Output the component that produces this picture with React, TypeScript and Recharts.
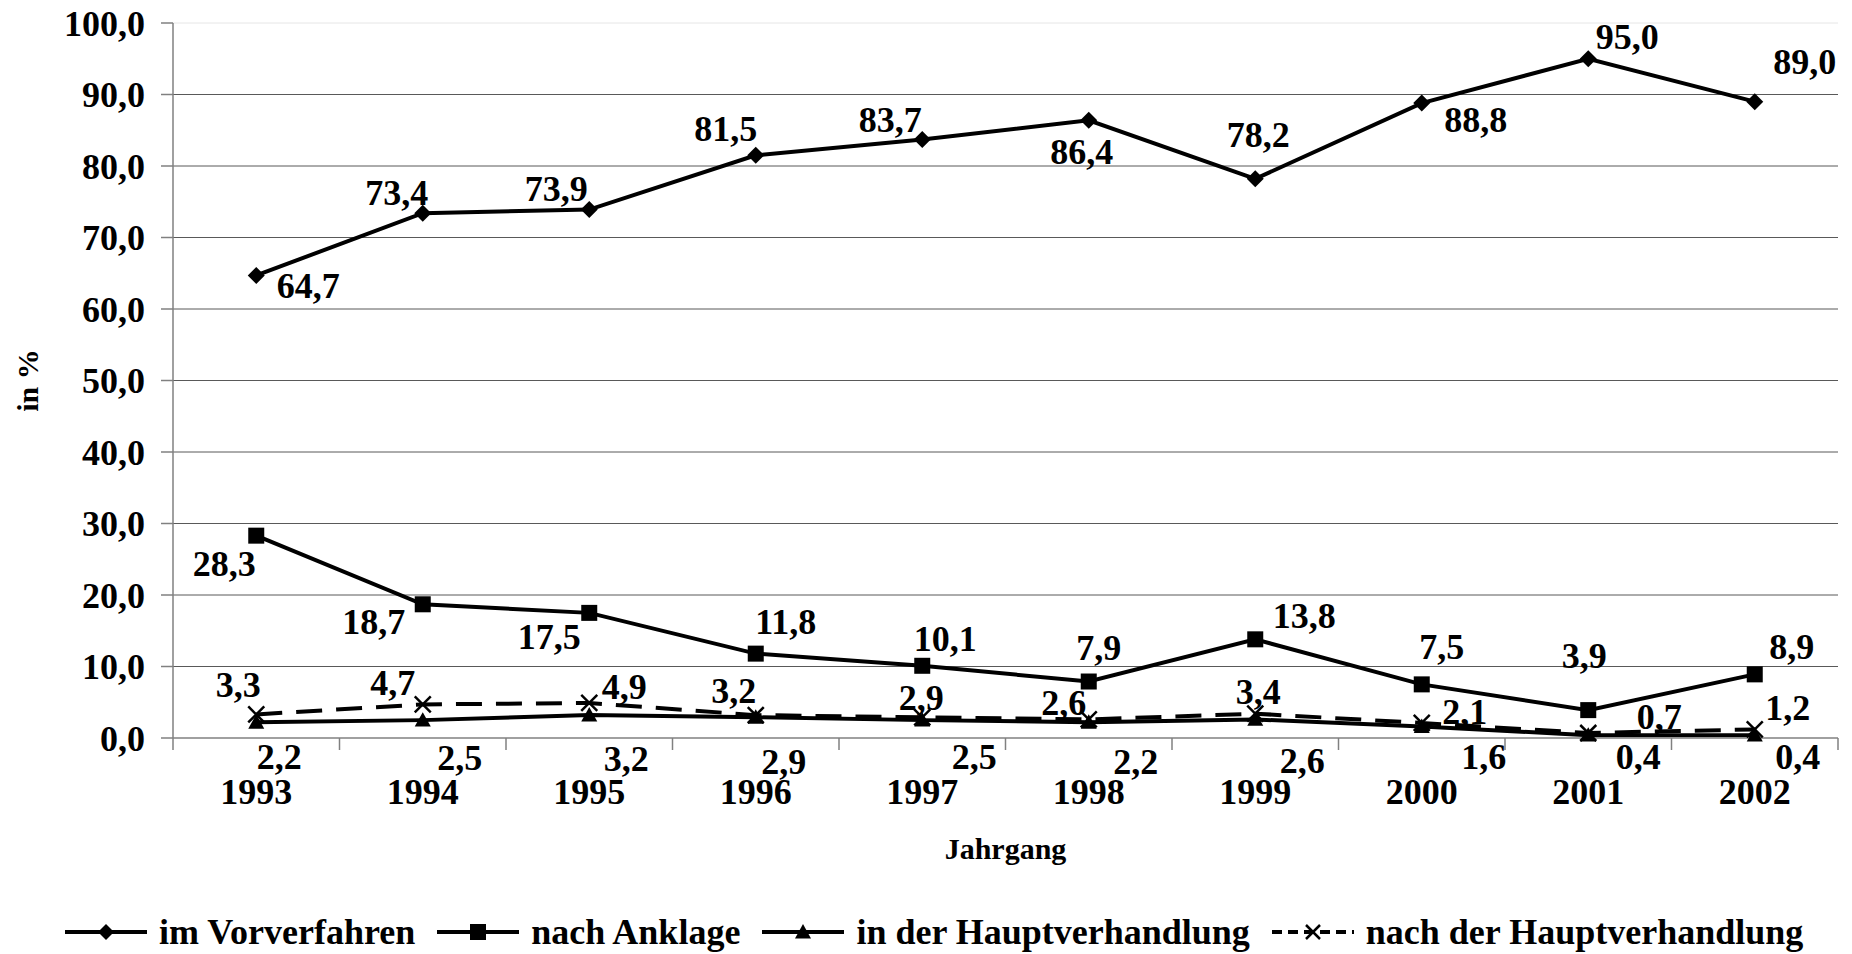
import React from 'react';
import { LineChart, Line, XAxis, YAxis, CartesianGrid, ReferenceLine, LabelList } from 'recharts';

// Jahrgänge und Anteile in %
const years = ['1993', '1994', '1995', '1996', '1997', '1998', '1999', '2000', '2001', '2002'];
const vorverfahren = [64.7, 73.4, 73.9, 81.5, 83.7, 86.4, 78.2, 88.8, 95.0, 89.0];
const anklage = [28.3, 18.7, 17.5, 11.8, 10.1, 7.9, 13.8, 7.5, 3.9, 8.9];
const hauptverhandlung = [2.2, 2.5, 3.2, 2.9, 2.5, 2.2, 2.6, 1.6, 0.4, 0.4];
const nachHauptverhandlung = [3.3, 4.7, 4.9, 3.2, 2.9, 2.6, 3.4, 2.1, 0.7, 1.2];
const yTicks = [0, 10, 20, 30, 40, 50, 60, 70, 80, 90, 100];
const gridValues = [10, 20, 30, 40, 50, 60, 70, 80, 90];

// Position der Datenbeschriftungen relativ zum Punkt (wie im Original manuell verschoben)
const vorOffsets = [[52, 11], [-26, -20], [-33, -21], [-30, -26], [-32, -20], [-7, 32], [3, -44], [54, 17], [39, -22], [50, -40]];
const ankOffsets = [[-32, 28], [-49, 18], [-40, 24], [30, -32], [23, -27], [10, -34], [49, -23], [20, -37], [-4, -54], [37, -27]];
const hvOffsets = [[23, 35], [37, 38], [37, 44], [28, 45], [52, 37], [47, 40], [47, 42], [62, 30], [50, 22], [43, 22]];
const nachOffsets = [[-18, -29], [-30, -21], [35, -16], [-22, -24], [-1, -19], [-25, -16], [3, -22], [43, -11], [71, -16], [33, -21]];

const data = years.map((year, i) => ({
  year,
  vor: vorverfahren[i],
  ank: anklage[i],
  hv: hauptverhandlung[i],
  nach: nachHauptverhandlung[i],
}));

const FONT = "'Liberation Serif', 'Times New Roman', serif";
const W = 1844;
const H = 880;
const TOP = 15;
const LEFT = 165;
const RIGHT = 1830;
const BOTTOM = 730;
const HALF_BAND = (RIGHT - LEFT) / years.length / 2;

const fmt = (v: number) => v.toFixed(1).replace('.', ',');

const Diamond = ({ cx, cy, s = 8.5 }: any) => (
  <polygon points={`${cx},${cy - s} ${cx + s},${cy} ${cx},${cy + s} ${cx - s},${cy}`} fill="#000" />
);
const Square = ({ cx, cy, s = 8 }: any) => <rect x={cx - s} y={cy - s} width={s * 2} height={s * 2} fill="#000" />;
const Triangle = ({ cx, cy, s = 8 }: any) => (
  <polygon points={`${cx},${cy - s} ${cx + s},${cy + s * 0.8} ${cx - s},${cy + s * 0.8}`} fill="#000" />
);
const Cross = ({ cx, cy, s = 8 }: any) => (
  <g stroke="#000" strokeWidth={2.5}>
    <line x1={cx - s} y1={cy - s} x2={cx + s} y2={cy + s} />
    <line x1={cx - s} y1={cy + s} x2={cx + s} y2={cy - s} />
  </g>
);

const makeLabel = (offsets: number[][]) => (props: any) => {
  const { x, y, value, index } = props;
  const [dx, dy] = offsets[index] || [0, -20];
  return (
    <text
      x={x + dx}
      y={y + dy}
      textAnchor="middle"
      dominantBaseline="central"
      fontFamily={FONT}
      fontWeight="bold"
      fontSize={36}
      fill="#000"
    >
      {fmt(value)}
    </text>
  );
};

const YearTick = (props: any) => {
  const { x, payload, index } = props;
  return (
    <g>
      <line x1={x - HALF_BAND} y1={BOTTOM} x2={x - HALF_BAND} y2={BOTTOM + 12} stroke="#808080" strokeWidth={1.5} />
      {index === years.length - 1 && (
        <line x1={x + HALF_BAND} y1={BOTTOM} x2={x + HALF_BAND} y2={BOTTOM + 12} stroke="#808080" strokeWidth={1.5} />
      )}
      <text x={x} y={796} textAnchor="middle" fontFamily={FONT} fontWeight="bold" fontSize={36} fill="#000">
        {payload.value}
      </text>
    </g>
  );
};

const legendItems = [
  { name: 'im Vorverfahren', Marker: Diamond, dash: undefined },
  { name: 'nach Anklage', Marker: Square, dash: undefined },
  { name: 'in der Hauptverhandlung', Marker: Triangle, dash: undefined },
  { name: 'nach der Hauptverhandlung', Marker: Cross, dash: '10 6' },
];

export default function App() {
  return (
    <div style={{ position: 'relative', width: W, height: 946, background: '#fff' }}>
      <LineChart width={W} height={H} data={data} margin={{ top: TOP, right: W - RIGHT, left: 0, bottom: 0 }}>
        <CartesianGrid horizontal={true} vertical={false} horizontalValues={gridValues} stroke="#595959" strokeWidth={1} />
        <ReferenceLine y={100} stroke="#e6e6e6" strokeWidth={1} />
        <XAxis
          dataKey="year"
          type="category"
          padding={{ left: HALF_BAND, right: HALF_BAND }}
          height={H - BOTTOM}
          axisLine={{ stroke: '#808080', strokeWidth: 1.5 }}
          tickLine={false}
          tickSize={0}
          interval={0}
          tick={<YearTick />}
          label={{
            value: 'Jahrgang',
            position: 'insideBottom',
            offset: 29,
            fontFamily: FONT,
            fontWeight: 'bold',
            fontSize: 30,
            fill: '#000',
          }}
        />
        <YAxis
          domain={[0, 100]}
          ticks={yTicks}
          interval={0}
          width={LEFT}
          axisLine={{ stroke: '#808080', strokeWidth: 1.5 }}
          tickLine={{ stroke: '#808080', strokeWidth: 1.5 }}
          tickSize={12}
          tickMargin={16}
          tickFormatter={fmt}
          tick={{ fontFamily: FONT, fontWeight: 'bold', fontSize: 36, fill: '#000' }}
          label={(p: any) => (
            <text
              x={19}
              y={(TOP + BOTTOM) / 2}
              transform={`rotate(-90, 19, ${(TOP + BOTTOM) / 2})`}
              textAnchor="middle"
              dominantBaseline="central"
              fontFamily={FONT}
              fontWeight="bold"
              fontSize={30}
              fill="#000"
            >
              in %
            </text>
          )}
        />
        <Line
          dataKey="vor"
          name="im Vorverfahren"
          stroke="#000"
          strokeWidth={4}
          isAnimationActive={false}
          dot={(p: any) => <Diamond key={p.index} cx={p.cx} cy={p.cy} />}
        >
          <LabelList dataKey="vor" content={makeLabel(vorOffsets)} />
        </Line>
        <Line
          dataKey="ank"
          name="nach Anklage"
          stroke="#000"
          strokeWidth={4}
          isAnimationActive={false}
          dot={(p: any) => <Square key={p.index} cx={p.cx} cy={p.cy} />}
        >
          <LabelList dataKey="ank" content={makeLabel(ankOffsets)} />
        </Line>
        <Line
          dataKey="hv"
          name="in der Hauptverhandlung"
          stroke="#000"
          strokeWidth={4}
          isAnimationActive={false}
          dot={(p: any) => <Triangle key={p.index} cx={p.cx} cy={p.cy} />}
        >
          <LabelList dataKey="hv" content={makeLabel(hvOffsets)} />
        </Line>
        <Line
          dataKey="nach"
          name="nach der Hauptverhandlung"
          stroke="#000"
          strokeWidth={4}
          strokeDasharray="26 14"
          isAnimationActive={false}
          dot={(p: any) => <Cross key={p.index} cx={p.cx} cy={p.cy} />}
        >
          <LabelList dataKey="nach" content={makeLabel(nachOffsets)} />
        </Line>
      </LineChart>

      {/* Legende */}
      <div
        style={{
          position: 'absolute',
          left: 57,
          top: 904,
          height: 40,
          display: 'flex',
          alignItems: 'center',
          gap: 22,
          fontFamily: FONT,
          fontWeight: 'bold',
          fontSize: 36,
          whiteSpace: 'nowrap',
        }}
      >
        {legendItems.map(({ name, Marker, dash }) => (
          <div key={name} style={{ display: 'flex', alignItems: 'center', gap: 12 }}>
            <svg width={82} height={24}>
              <line x1={0} y1={12} x2={82} y2={12} stroke="#000" strokeWidth={4} strokeDasharray={dash} />
              <Marker cx={41} cy={12} s={dash ? 7 : 8} />
            </svg>
            <span style={{ lineHeight: '40px' }}>{name}</span>
          </div>
        ))}
      </div>
    </div>
  );
}
